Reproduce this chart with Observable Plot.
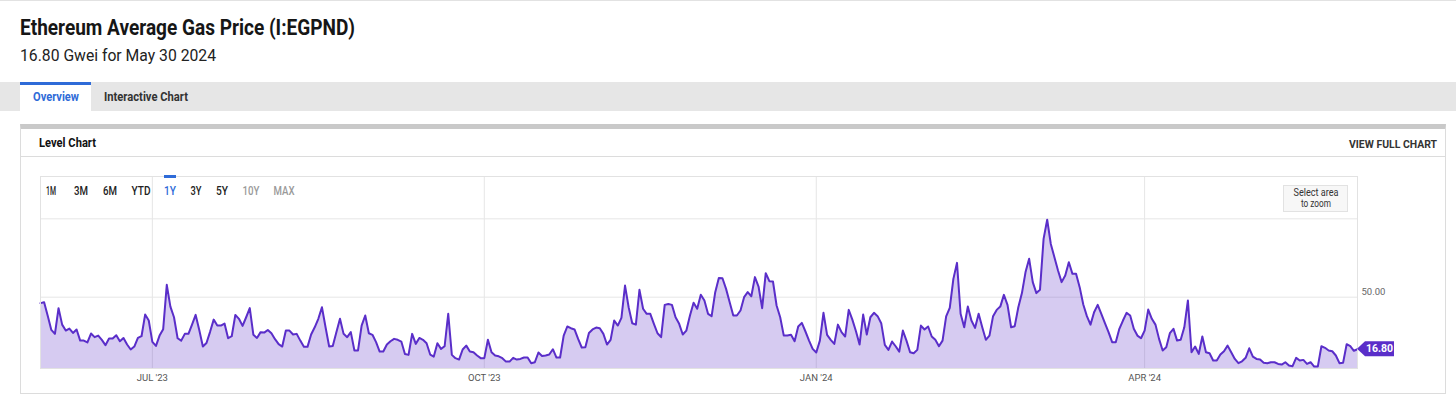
<!DOCTYPE html>
<html>
<head>
<meta charset="utf-8">
<script src="https://cdn.jsdelivr.net/npm/d3@7"></script>
<script src="https://cdn.jsdelivr.net/npm/@observablehq/plot@0.6"></script>
<style>
  html, body { margin: 0; padding: 0; }
  body { width: 1456px; height: 404px; position: relative; overflow: hidden; background: #fff; font-family: Roboto, "Noto Sans", sans-serif; }
  .box { position: absolute; box-sizing: border-box; }
  .t { position: absolute; white-space: nowrap; line-height: 1; transform-origin: 0 0; }
  #chart { position: absolute; left: 0; top: 160px; }
</style>
</head>
<body>
<div class="box" style="left:0;top:0;width:1456px;height:1px;background:#e2e2e2"></div>
<div class="box" style="left:0;top:82px;width:1456px;height:29px;background:#e6e6e6"></div>
<div class="box" style="left:20px;top:82px;width:71px;height:29px;background:#fff;border-top:3px solid #2f6bd8"></div>
<div class="box" style="left:20px;top:124px;width:1426px;height:270px;border:1px solid #dcdcdc;border-top:5px solid #c9c9c9"></div>
<div class="box" style="left:21px;top:156px;width:1424px;height:1px;background:#dcdcdc"></div>
<div id="chart"></div>
<div class="box" style="left:164px;top:175px;width:12px;height:3px;background:#2f6bd8"></div>
<div class="box" style="left:1283px;top:185px;width:65px;height:27px;background:#f7f7f7;border:1px solid #e2e2e2"></div>
<script>
// ---------- data (daily average gas price, Gwei, starting 2023-05-31) ----------
const startDate = "2023-05-31";
const gasJunAug23 = [
  46.2, 46.8, 38.1, 29.1, 26.6, 43.0, 32.5, 28.7, 30.0, 27.2,
  29.4, 22.3, 22.3, 21.1, 26.8, 24.5, 25.5, 22.8, 19.4, 23.6,
  23.6, 25.7, 21.9, 24.0, 19.8, 16.6, 18.5, 24.0, 25.1, 38.9,
  35.1, 21.5, 18.9, 25.5, 29.6, 57.9, 44.0, 37.2, 23.8, 22.3,
  26.6, 26.6, 32.5, 38.7, 29.1, 18.5, 20.8, 27.9, 35.7, 31.9,
  31.9, 33.2, 23.8, 25.1, 38.7, 36.2, 31.7, 37.2, 43.0, 26.0,
  24.0, 27.7, 27.4, 29.1, 27.0, 23.2, 20.0, 18.5, 28.7, 28.7,
  26.2, 26.6, 22.3, 18.3, 18.3, 26.2, 30.8, 36.2, 43.6, 30.8,
  18.5
];
const gasAugNov23 = [
  18.9, 27.7, 36.2, 26.6, 24.5, 27.7, 16.0, 16.0, 31.9, 38.3,
  27.0, 26.0, 21.3, 15.3, 15.3, 19.8, 21.9, 23.4, 22.8, 21.7,
  13.8, 13.2, 26.6, 20.2, 24.0, 22.8, 20.6, 13.4, 12.1, 20.6,
  17.0, 18.7, 39.4, 13.2, 11.1, 10.2, 16.6, 19.1, 15.3, 14.9,
  12.8, 11.1, 11.1, 22.8, 14.9, 12.8, 12.3, 11.1, 8.9, 8.9,
  11.3, 10.2, 10.6, 11.5, 11.5, 7.9, 8.5, 14.7, 12.5, 12.8,
  13.4, 16.8, 11.5, 11.5, 25.5, 31.3, 30.2, 29.4, 23.4, 17.9,
  18.1, 27.2, 29.4, 30.6, 30.2
];
const gasNovJan24 = [
  26.6, 19.8, 22.8, 35.1, 31.9, 36.8, 57.4, 43.6, 33.4, 32.5,
  54.7, 42.6, 39.4, 39.4, 33.0, 27.0, 24.5, 45.1, 45.7, 45.1,
  37.2, 33.0, 26.2, 28.7, 38.3, 46.4, 42.6, 51.5, 47.9, 39.4,
  37.9, 53.2, 62.3, 62.1, 55.3, 46.8, 38.3, 38.3, 41.5, 50.0,
  53.2, 50.6, 62.8, 56.8, 43.0, 65.3, 60.2, 60.0, 44.7, 37.2,
  25.5, 25.5, 26.0, 21.9, 31.3, 33.6, 28.1, 22.3, 17.0, 14.7,
  22.3, 40.0, 26.0, 22.8, 20.2, 32.5, 27.7, 24.9, 41.9, 35.7,
  28.3, 19.8
];
const gasJanMar24 = [
  38.9, 26.2, 37.2, 40.0, 37.9, 33.4, 19.6, 16.4, 21.7, 18.7,
  15.3, 28.7, 22.3, 14.9, 14.2, 16.4, 31.9, 29.4, 31.3, 24.9,
  22.8, 18.7, 22.3, 37.7, 43.2, 61.7, 71.9, 39.4, 30.8, 44.0,
  35.1, 30.4, 39.4, 30.8, 22.8, 25.5, 37.9, 41.9, 44.0, 51.5,
  45.1, 30.8, 31.5, 43.6, 52.6, 66.0, 74.5, 59.6, 52.6, 54.7,
  87.2, 99.4, 84.0, 75.5, 67.0, 59.6, 63.8, 72.3, 64.9, 64.9,
  56.4, 45.3, 37.9, 32.5, 40.4, 45.1
];
const gasMarMay24 = [
  39.4, 33.4, 27.7, 21.3, 21.3, 29.8, 35.1, 40.0, 38.3, 29.8,
  25.5, 23.8, 28.7, 42.1, 36.2, 32.5, 23.4, 16.0, 18.1, 27.0,
  29.8, 22.3, 22.8, 30.8, 47.9, 14.9, 18.5, 13.8, 24.9, 14.9,
  14.2, 9.6, 9.6, 13.4, 15.5, 19.1, 14.9, 10.6, 7.9, 9.1,
  11.3, 17.4, 12.1, 10.6, 10.2, 8.1, 7.9, 8.5, 8.5, 7.4,
  7.0, 8.5, 6.4, 6.0, 11.3, 9.6, 10.0, 7.4, 8.5, 5.7,
  5.7, 18.7, 17.7, 16.0, 15.5, 12.8, 7.9, 8.1, 20.0, 18.7,
  15.8, 16.8
];
const xTickDates = ["2023-07-01", "2023-10-01", "2024-01-01", "2024-04-01"];
const xTickLabels = ["JUL '23", "OCT '23", "JAN '24", "APR '24"];
const yGridValues = [50, 100];
const yTickValues = [50];
const lastLabel = "16.80";
const titleText = "Ethereum Average Gas Price (I:EGPND)";
const subtitleText = "16.80 Gwei for May 30 2024";
const tabLabels = ["Overview", "Interactive Chart"];
const rangeLabels = ["1M", "3M", "6M", "YTD", "1Y", "3Y", "5Y", "10Y", "MAX"];

// ---------- chart ----------
const lineColor = "#5a2ec9";
const t0 = new Date(startDate + "T00:00:00Z");
const values = [].concat(gasJunAug23, gasAugNov23, gasNovJan24, gasJanMar24, gasMarMay24);
const data = values.map((v, i) => ({date: d3.utcDay.offset(t0, i), value: v}));
const xTicks = xTickDates.map(s => new Date(s + "T00:00:00Z"));
const yMin = 4.5, yMax = 127;

const plot = Plot.plot({
  width: 1456, height: 230,
  marginLeft: 40, marginRight: 99, marginTop: 16, marginBottom: 22,
  style: {background: "transparent", fontFamily: "Roboto, sans-serif", fontSize: "9.5px", color: "#555", overflow: "visible"},
  x: {type: "utc", domain: [t0, data[data.length - 1].date], label: null},
  y: {domain: [yMin, yMax], label: null},
  marks: [
    Plot.gridX(xTicks, {stroke: "#e6e6e6", strokeOpacity: 1}),
    Plot.gridY(yGridValues, {stroke: "#e6e6e6", strokeOpacity: 1}),
    Plot.areaY(data, {x: "date", y1: () => yMin, y2: "value", fill: lineColor, fillOpacity: 0.25}),
    Plot.lineY(data, {x: "date", y: "value", stroke: lineColor, strokeWidth: 2}),
    Plot.frame({stroke: "#e2e2e2"}),
    Plot.axisX(xTicks, {tickSize: 0, tickPadding: 6, fill: "#555", label: null,
      tickFormat: d => xTickLabels[xTicks.findIndex(t => +t === +d)]}),
    Plot.axisY(yTickValues, {anchor: "right", tickSize: 0, tickPadding: 4, dy: -5, fill: "#666", label: null,
      tickFormat: d3.format(".2f")})
  ]
});
document.getElementById("chart").appendChild(plot);

// last-value tag, placed through the plot's own scales
const sx = plot.scale("x"), sy = plot.scale("y");
const last = data[data.length - 1];
const px = sx.apply(last.date), py = sy.apply(last.value);
const g = d3.select(plot).append("g");
g.append("path")
  .attr("d", `M${px},${py} L${px + 8},${py - 7.5} L${px + 37},${py - 7.5} L${px + 37},${py + 7.5} L${px + 8},${py + 7.5} Z`)
  .attr("fill", lineColor);
g.append("text")
  .attr("x", px + 22.5).attr("y", py).attr("dy", "0.35em")
  .attr("text-anchor", "middle").attr("fill", "#fff")
  .attr("font-size", 10.5).attr("font-weight", 700)
  .text(lastLabel);

// ---------- page texts ----------
function T(txt, x, cy, size, weight, color, anchor, w) {
  const outer = document.createElement("div");
  outer.className = "t";
  outer.style.left = x + "px";
  outer.style.top = cy + "px";
  outer.style.fontSize = size + "px";
  outer.style.fontWeight = weight;
  outer.style.color = color;
  const inner = document.createElement("span");
  inner.textContent = txt;
  outer.appendChild(inner);
  document.body.appendChild(outer);
  const nat = inner.getBoundingClientRect().width;
  const s = w ? w / nat : 0.82;
  const tx = anchor === "middle" ? -50 : anchor === "end" ? -100 : 0;
  outer.style.transform = `scaleX(${s}) translate(${tx}%, -50%)`;
}
T(titleText, 20, 28.3, 21.5, 700, "#161616", "start", 335);
T(subtitleText, 20, 54.5, 17, 400, "#222", "start", 196);
T(tabLabels[0], 56, 96.5, 12.7, 700, "#2f6bd8", "middle", 46);
T(tabLabels[1], 146, 96.5, 12.7, 700, "#333", "middle", 84);
T("Level Chart", 39, 143, 12.7, 700, "#111", "start", 57);
T("VIEW FULL CHART", 1437, 144, 11, 700, "#333", "end", 88);

const rangePos = [[51,10],[81,14],[110,14],[140.5,19],[170,12],[195.5,11],[222,12],[250.5,17],[283.5,21]];
const rangeColor = ["#222","#222","#222","#222","#2f6bd8","#222","#222","#9a9a9a","#9a9a9a"];
rangeLabels.forEach((lab, i) => T(lab, rangePos[i][0], 190.5, 12.5, 500, rangeColor[i], "middle", rangePos[i][1]));
T("Select area", 1315.5, 193, 10.5, 400, "#333", "middle", 45);
T("to zoom", 1315.5, 204, 10.5, 400, "#333", "middle", 30);
</script>
</body>
</html>
